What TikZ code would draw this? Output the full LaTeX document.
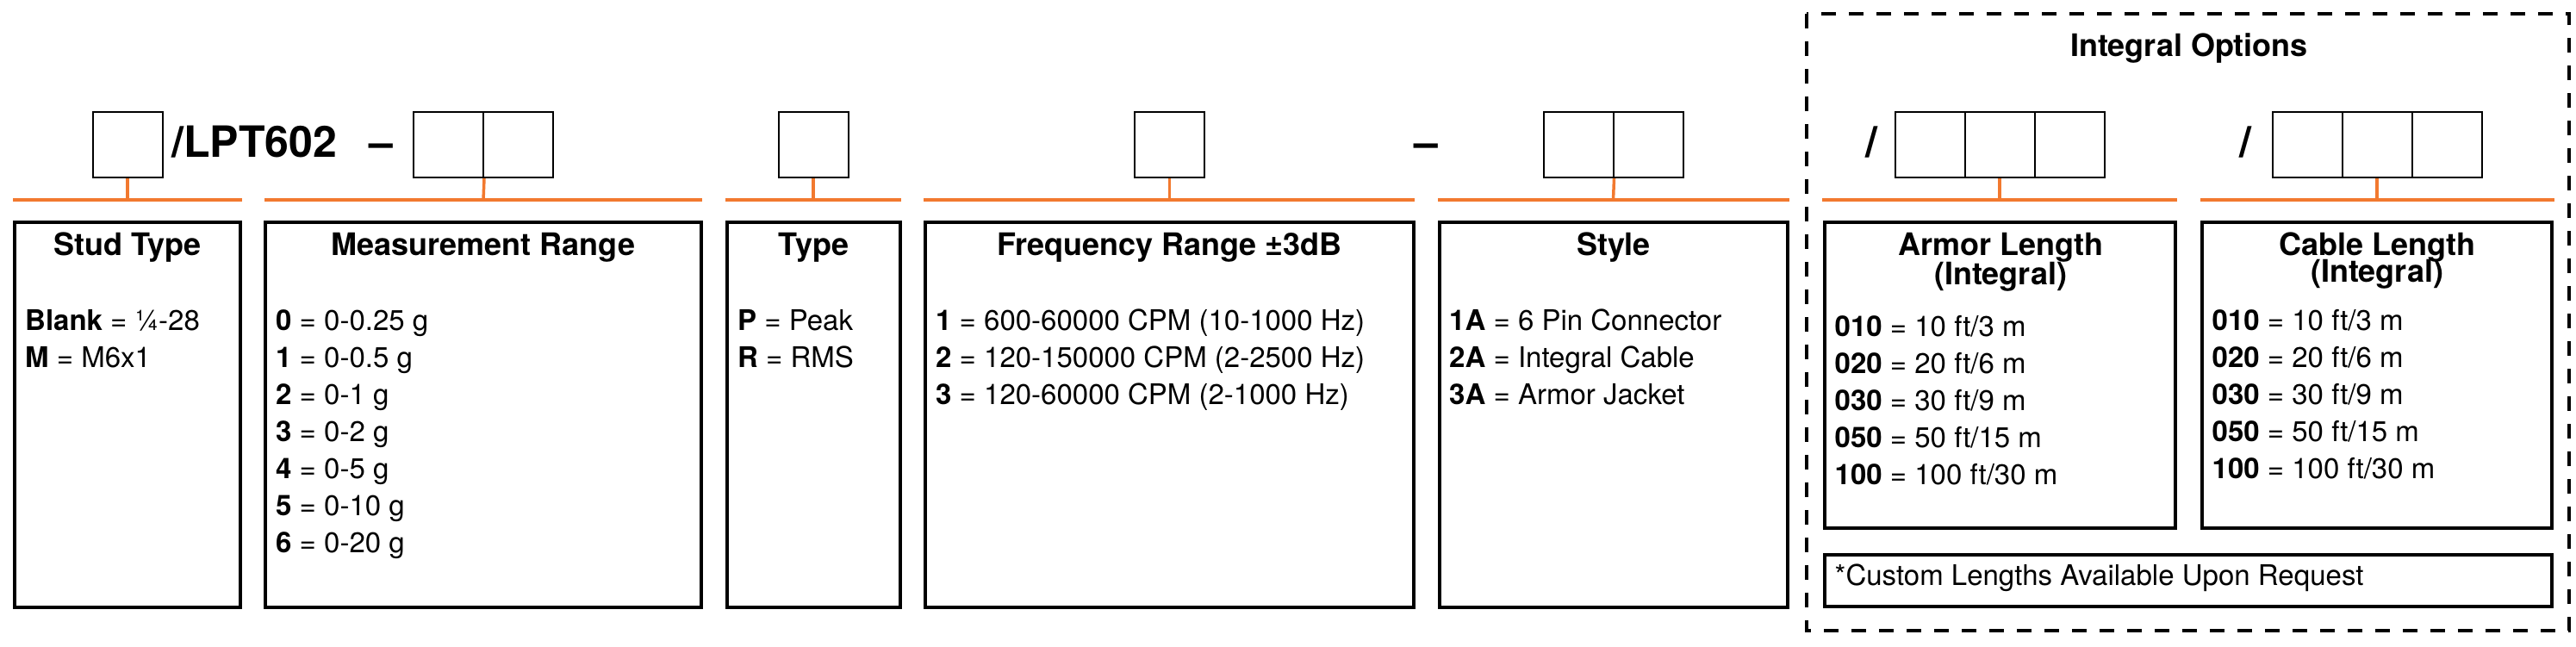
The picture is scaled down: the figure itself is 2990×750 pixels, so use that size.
\documentclass[tikz,border=0pt]{standalone}
\usepackage{fontspec}
\setmainfont{TeX Gyre Heros}
\usepackage{xcolor}
\usetikzlibrary{positioning}
\definecolor{barorange}{RGB}{242,121,47}
\tikzset{
  slot/.style={draw, line width=2pt, minimum width=81pt, minimum height=76pt, inner sep=0pt},
  bar/.style={draw=barorange, line width=3.5pt},
  panel/.style={draw, line width=3.5pt},
  head/.style={anchor=base, inner sep=0pt, font=\bfseries\fontsize{36}{40}\selectfont},
  entry/.style={anchor=base west, inner sep=0pt, font=\fontsize{33}{40}\selectfont},
  big/.style={anchor=base west, inner sep=0pt, font=\bfseries\fontsize{50}{55}\selectfont},
}

\begin{document}
\begin{tikzpicture}[x=1pt,y=-1pt]
\useasboundingbox (0,0) rectangle (2990,750);

% part number
\node [slot] (stud) at (148,168) {};
\node [big] (model) at (199,182) {/LPT602};
\node [big] (dasha) at (428,182) {\textendash};
\node [slot] (range1) at (520.5,168) {};
\node [slot] (range2) at (601.5,168) {};
\node [slot] (type) at (944,168) {};
\node [slot] (freq) at (1357.5,168) {};
\node [big] (dashb) at (1641,182) {\textendash};
\node [slot] (style1) at (1832,168) {};
\node [slot] (style2) at (1913,168) {};
\node [big] (slasha) at (2165,182) {/};
\node [slot] (armor1) at (2240,168) {};
\node [slot] (armor2) at (2321,168) {};
\node [slot] (armor3) at (2402,168) {};
\node [big] (slashb) at (2599,182) {/};
\node [slot] (cable1) at (2678,168) {};
\node [slot] (cable2) at (2759,168) {};
\node [slot] (cable3) at (2840,168) {};

% orange bars
\coordinate (studbar) at (148,232);
\coordinate (rangebar) at (561,232);
\coordinate (typebar) at (944,232);
\coordinate (freqbar) at (1357.5,232);
\coordinate (stylebar) at (1872.5,232);
\coordinate (armorbar) at (2321,232);
\coordinate (cablebar) at (2759,232);

\draw [bar] (15,232) -- (281,232);
\draw [bar] (307,232) -- (815,232);
\draw [bar] (842,232) -- (1046,232);
\draw [bar] (1072,232) -- (1642,232);
\draw [bar] (1669,232) -- (2077,232);
\draw [bar] (2115,232) -- (2527,232);
\draw [bar] (2554,232) -- (2965,232);

\draw [bar] (stud.south) -- (studbar);
\draw [bar] (range1.south east) -- (rangebar);
\draw [bar] (type.south) -- (typebar);
\draw [bar] (freq.south) -- (freqbar);
\draw [bar] (style1.south east) -- (stylebar);
\draw [bar] (armor2.south) -- (armorbar);
\draw [bar] (cable2.south) -- (cablebar);

% panels
\draw [panel] (17,258) rectangle (279,705);
\draw [panel] (308,258) rectangle (814,705);
\draw [panel] (844,258) rectangle (1045,705);
\draw [panel] (1074,258) rectangle (1641,705);
\draw [panel] (1671,258) rectangle (2075,705);
\draw [panel] (2118,258) rectangle (2525,613);
\draw [panel] (2556,258) rectangle (2962,613);
\draw [panel] (2118,644) rectangle (2962,704);
\draw [line width=3.5pt, dash pattern=on 17pt off 15pt] (2097,16) rectangle (2982,732);

% headings
\node [head] (studhead) at (148,296) {Stud Type};
\node [head] (rangehead) at (561,296) {Measurement Range};
\node [head] (typehead) at (944.5,296) {Type};
\node [head] (freqhead) at (1357.5,296) {Frequency Range ±3dB};
\node [head] (stylehead) at (1873,296) {Style};
\node [head] (armorhead) at (2322,296) {Armor Length};
\node [head] (armorsub) at (2322,330) {(Integral)};
\node [head] (cablehead) at (2759,296) {Cable Length};
\node [head] (cablesub) at (2759,327) {(Integral)};
\node [head] (opthead) at (2541,65) {Integral Options};

% entries
\foreach \k/\v [count=\i from 0] in {Blank/¼-28, M/M6x1}
  \node [entry] (stud-\k) at (29,{383+43*\i}) {\textbf{\k} = \v};
\foreach \k/\v [count=\i from 0] in {0/0-0.25 g, 1/0-0.5 g, 2/0-1 g, 3/0-2 g, 4/0-5 g, 5/0-10 g, 6/0-20 g}
  \node [entry] (range-\k) at (320,{383+43*\i}) {\textbf{\k} = \v};
\foreach \k/\v [count=\i from 0] in {P/Peak, R/RMS}
  \node [entry] (type-\k) at (856,{383+43*\i}) {\textbf{\k} = \v};
\foreach \k/\v [count=\i from 0] in {1/600-60000 CPM (10-1000 Hz), 2/120-150000 CPM (2-2500 Hz), 3/120-60000 CPM (2-1000 Hz)}
  \node [entry] (freq-\k) at (1086,{383+43*\i}) {\textbf{\k} = \v};
\foreach \k/\v [count=\i from 0] in {1A/6 Pin Connector, 2A/Integral Cable, 3A/Armor Jacket}
  \node [entry] (style-\k) at (1682,{383+43*\i}) {\textbf{\k} = \v};
\foreach \k/\v [count=\i from 0] in {010/{10 ft/3 m}, 020/{20 ft/6 m}, 030/{30 ft/9 m}, 050/{50 ft/15 m}, 100/{100 ft/30 m}}
  \node [entry] (armor-\k) at (2129.5,{390+43*\i}) {\textbf{\k} = \v};
\foreach \k/\v [count=\i from 0] in {010/{10 ft/3 m}, 020/{20 ft/6 m}, 030/{30 ft/9 m}, 050/{50 ft/15 m}, 100/{100 ft/30 m}}
  \node [entry] (cable-\k) at (2567.5,{383+43*\i}) {\textbf{\k} = \v};
\node [entry] (custom) at (2129.5,679) {*Custom Lengths Available Upon Request};

\end{tikzpicture}
\end{document}
